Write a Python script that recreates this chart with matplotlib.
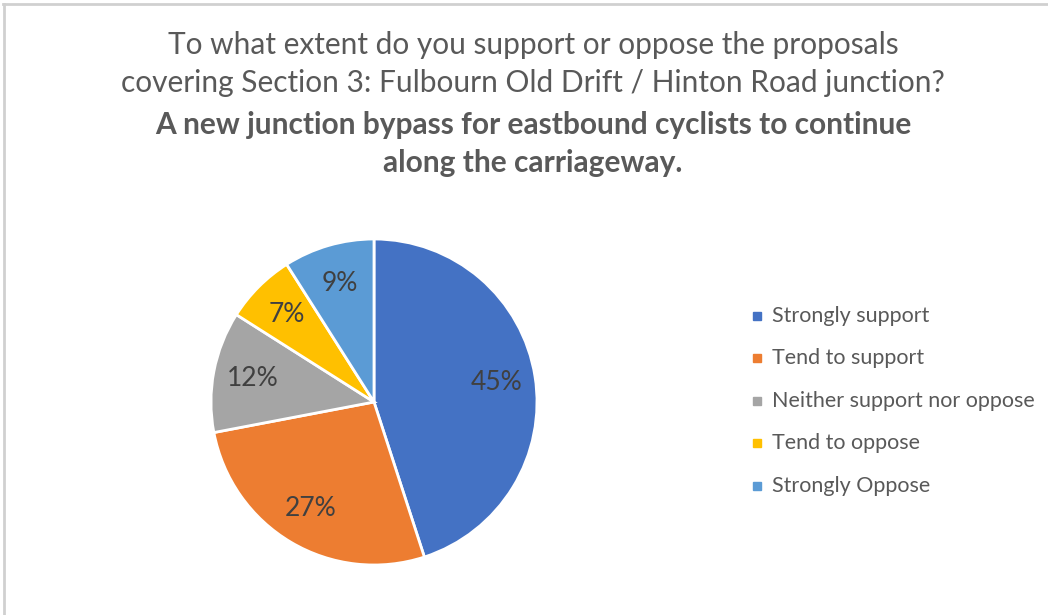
import matplotlib.pyplot as plt
from matplotlib.lines import Line2D

# survey responses (% of respondents)
categories = ["Strongly support", "Tend to support", "Neither support nor oppose",
              "Tend to oppose", "Strongly Oppose"]
shares = [45, 27, 12, 7, 9]
colours = ["#4472C4", "#ED7D31", "#A5A5A5", "#FFC000", "#5B9BD5"]

plt.rcParams['font.family'] = ['Lato', 'DejaVu Sans']

W, H = 1048, 615
fig = plt.figure(figsize=(W / 100, H / 100), dpi=100)

# light frame on top and left edges
fig.add_artist(Line2D([3 / W, 1], [1 - 4 / H, 1 - 4 / H], color="#D0D0D0", lw=2))
fig.add_artist(Line2D([4 / W, 4 / W], [0, 1 - 4 / H], color="#D0D0D0", lw=2))

# title
grey = "#595959"
fig.text(533 / W, 1 - 45 / H, "To what extent do you support or oppose the proposals",
         ha="center", va="center", fontsize=21.5, color=grey)
fig.text(533 / W, 1 - 83 / H, "covering Section 3: Fulbourn Old Drift / Hinton Road junction?",
         ha="center", va="center", fontsize=21.5, color=grey)
fig.text(533 / W, 1 - 125 / H, "A new junction bypass for eastbound cyclists to continue",
         ha="center", va="center", fontsize=21.5, color=grey, fontweight="bold")
fig.text(533 / W, 1 - 163 / H, "along the carriageway.",
         ha="center", va="center", fontsize=21.5, color=grey, fontweight="bold")

# pie
cx, cy, r = 374, 402, 163
ax = fig.add_axes([(cx - r) / W, 1 - (cy + r) / H, 2 * r / W, 2 * r / H])
wedges, texts, autotexts = ax.pie(
    shares, colors=colours, startangle=90, counterclock=False,
    autopct="%.0f%%", pctdistance=0.76, radius=1,
    wedgeprops=dict(edgecolor="white", linewidth=2),
    textprops=dict(color="#404040", fontsize=19))
ax.set_xlim(-1.0, 1.0)
ax.set_ylim(-1.0, 1.0)
ax.set_aspect("equal")
ax.axis("off")

# legend
ys = [316, 358, 401, 443, 486]
for y, lab, c in zip(ys, categories, colours):
    fig.patches.append(plt.Rectangle((753 / W, 1 - (y + 4) / H), 8 / W, 8 / H,
                                     color=c, transform=fig.transFigure))
    fig.text(772 / W, 1 - y / H, lab, ha="left", va="center", fontsize=15.5, color=grey)

fig.savefig("out.png", dpi=100)
